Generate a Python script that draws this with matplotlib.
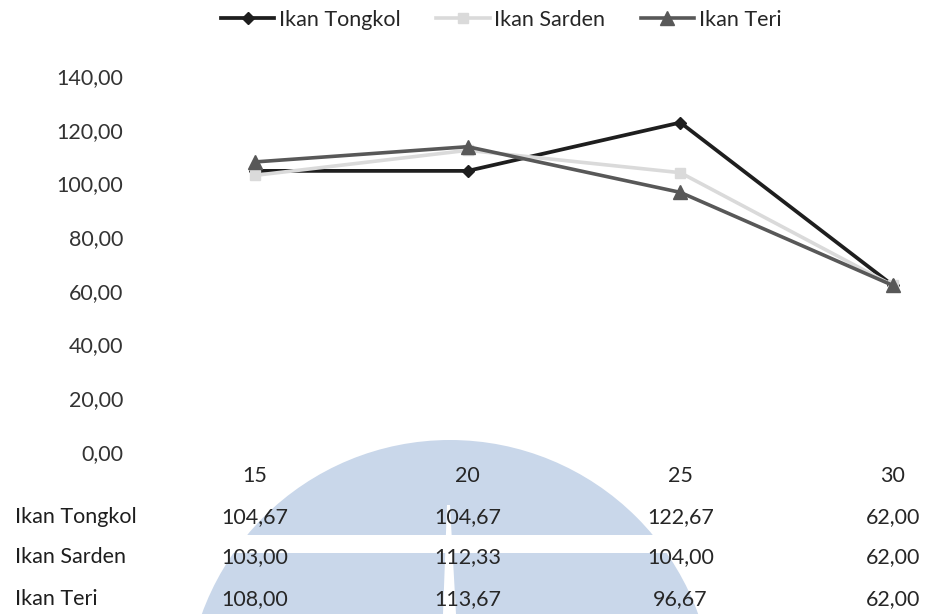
import numpy as np
import matplotlib
matplotlib.use('Agg')
import matplotlib.pyplot as plt
from matplotlib.patches import Circle, Polygon, Rectangle
from matplotlib.transforms import blended_transform_factory
from matplotlib.ticker import FuncFormatter

plt.rcParams['font.family'] = ['Lato', 'DejaVu Sans']

# data
categories = ['15', '20', '25', '30']
series_names = ['Ikan Tongkol', 'Ikan Sarden', 'Ikan Teri']
tongkol = [104.67, 104.67, 122.67, 62.00]
sarden = [103.00, 112.33, 104.00, 62.00]
teri = [108.00, 113.67, 96.67, 62.00]
y_ticks = [0, 20, 40, 60, 80, 100, 120, 140]

FS = 15.5
TXT = '#262626'
W, H = 926, 614
fig = plt.figure(figsize=(W / 100, H / 100), dpi=100, facecolor='white')

# background layer in pixel units (y grows downward)
bg = fig.add_axes([0, 0, 1, 1], zorder=-1)
bg.set_xlim(0, W)
bg.set_ylim(H, 0)
bg.axis('off')
wm = '#c9d7ea'
bg.add_patch(Circle((450, 704), 264, color=wm, lw=0))
bg.add_patch(Rectangle((150, 535), 620, 18, color='white', lw=0))
bg.add_patch(Polygon([(447, 505), (450, 505), (456, 614), (443, 614)],
                     closed=True, color='white', lw=0))

# plot area
x0, x1 = 148, 926
yb, yt = 452, 76
ax = fig.add_axes([x0 / W, (H - yb) / H, (x1 - x0) / W, (yb - yt) / H])
ax.patch.set_alpha(0)
step = (893 - 255) / 3
ax.set_xlim(-(255 - x0) / step, 3 + (x1 - 893) / step)
ax.set_ylim(0, 140)

x = np.arange(len(categories))
styles = [
    dict(color='#1e1e1e', marker='D', ms=6.5, lw=2.7),
    dict(color='#dadada', marker='s', ms=7, lw=2.6),
    dict(color='#585858', marker='^', ms=10, lw=2.6),
]
handles = []
for vals, name, st in zip([tongkol, sarden, teri], series_names, styles):
    h, = ax.plot(x, vals, label=name, clip_on=False, zorder=3, **st)
    handles.append(h)

for s in ax.spines.values():
    s.set_visible(False)
ax.set_xticks([])
ax.set_yticks(y_ticks)
ax.yaxis.set_major_formatter(FuncFormatter(lambda v, p: f'{v:.2f}'.replace('.', ',')))
ax.tick_params(axis='y', length=0, pad=18, labelsize=FS, labelcolor='#333333')

# legend
fig.legend(handles, series_names, loc='center', bbox_to_anchor=(501 / W, 1 - 20 / H),
           ncol=3, frameon=False, fontsize=FS, handlelength=2.5, handletextpad=0.2,
           columnspacing=1.65, labelcolor=TXT)

# data table under the chart
tr = blended_transform_factory(ax.transData, fig.transFigure)
for i, c in enumerate(categories):
    fig.text(i, 1 - 476 / H, c, transform=tr, ha='center', va='center',
             fontsize=FS, color=TXT)

row_y = [517, 557, 599]
for vals, name, ry in zip([tongkol, sarden, teri], series_names, row_y):
    fig.text(15 / W, 1 - ry / H, name, ha='left', va='center', fontsize=FS, color='#1e1e1e')
    for i, v in enumerate(vals):
        fig.text(i, 1 - ry / H, f'{v:.2f}'.replace('.', ','), transform=tr,
                 ha='center', va='center', fontsize=FS, color=TXT)

fig.savefig('out.png', dpi=100, facecolor='white')
